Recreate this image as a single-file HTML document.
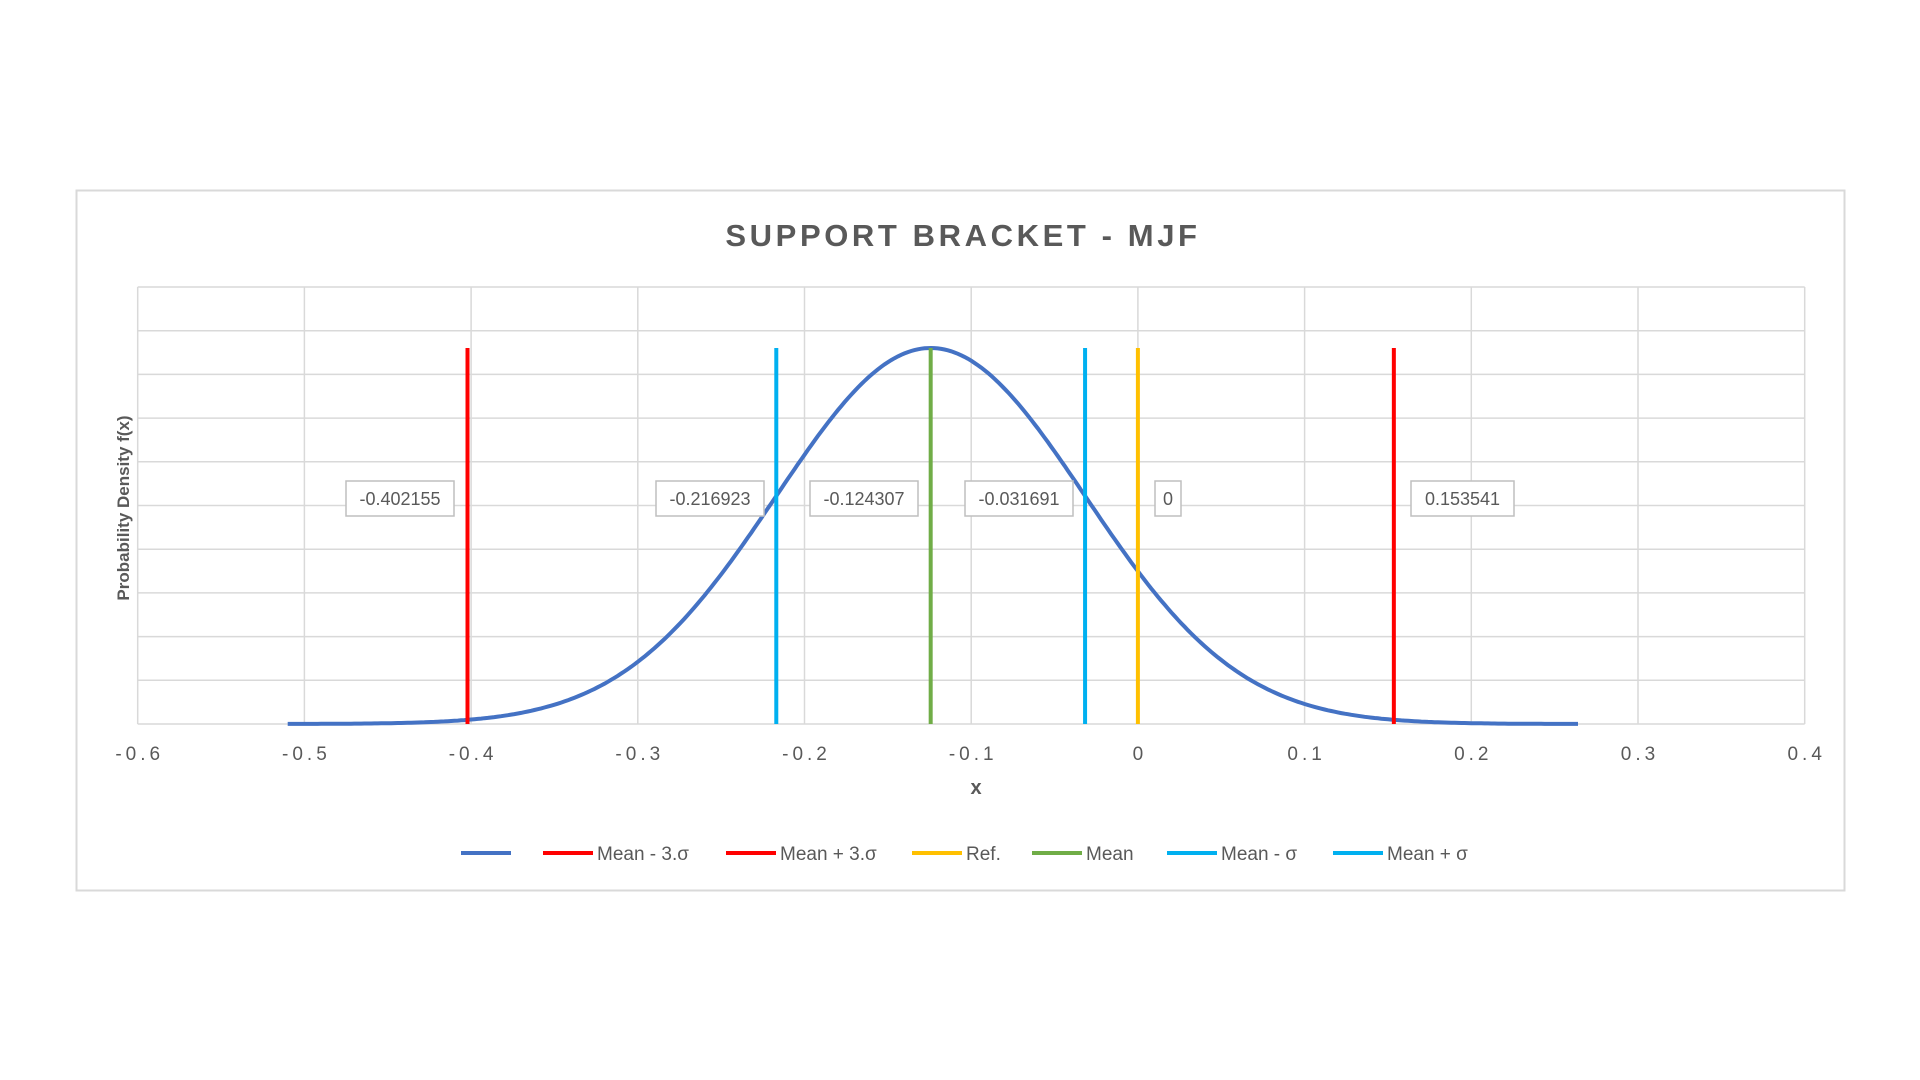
<!DOCTYPE html>
<html><head><meta charset="utf-8"><style>
html,body{margin:0;padding:0;background:#fff;width:1920px;height:1080px;overflow:hidden}
svg{display:block}
text{font-family:"Liberation Sans",sans-serif}
</style></head><body>
<svg id="s" width="1920" height="1080" xmlns="http://www.w3.org/2000/svg">
<rect x="76.5" y="190.5" width="1768" height="700" fill="#fff" stroke="#d9d9d9" stroke-width="2"/>
<text x="963" y="246" text-anchor="middle" font-size="31" font-weight="bold" fill="#595959" letter-spacing="3.6">SUPPORT BRACKET - MJF</text>
<g id="grid" stroke="#d9d9d9" stroke-width="1.5"></g>
<g id="ticks" font-size="19" fill="#595959" text-anchor="middle" letter-spacing="4"></g>
<text x="976" y="794" text-anchor="middle" font-size="20" font-weight="bold" fill="#595959">x</text>
<text transform="translate(129,508) rotate(-90)" text-anchor="middle" font-size="17" font-weight="bold" fill="#595959">Probability Density f(x)</text>
<path id="curve" fill="none" stroke="#4472C4" stroke-width="4"/>
<g id="vlines" stroke-width="4"></g>
<g id="labels" font-size="18" fill="#595959"></g>
<g id="legend" font-size="19" fill="#595959"></g>
</svg>
<script>
var L=137.7,W=1667,T=287,B=724,PK=348;
function X(v){return L+(v+0.6)*W/1.0;}
var ns="http://www.w3.org/2000/svg";
function el(p,t,a,txt){var e=document.createElementNS(ns,t);for(var k in a)e.setAttribute(k,a[k]);if(txt!=null)e.textContent=txt;document.getElementById(p).appendChild(e);return e;}
for(var i=0;i<=10;i++){var y=T+i*(B-T)/10;el("grid","line",{x1:L,x2:L+W,y1:y,y2:y});}
var tl=["-0.6","-0.5","-0.4","-0.3","-0.2","-0.1","0","0.1","0.2","0.3","0.4"];
for(var i=0;i<=10;i++){var x=L+i*W/10;el("grid","line",{x1:x,x2:x,y1:T,y2:B});el("ticks","text",{x:x+2,y:760},tl[i]);}
var m=-0.124307,s=0.092616,d="";
for(var v=-0.51;v<=0.2655;v+=0.002){var y=B-(B-PK)*Math.exp(-0.5*Math.pow((v-m)/s,2));d+=(d?"L":"M")+X(v).toFixed(1)+" "+y.toFixed(1);}
document.getElementById("curve").setAttribute("d",d);
var lines=[[-0.402155,"#FF0000"],[-0.216923,"#00B0F0"],[-0.124307,"#70AD47"],[-0.031691,"#00B0F0"],[0,"#FFC000"],[0.153541,"#FF0000"]];
lines.forEach(function(l){var x=X(l[0]);el("vlines","line",{x1:x,x2:x,y1:PK,y2:B,stroke:l[1]});});
var boxes=[[346,454,"-0.402155",1],[656,764,"-0.216923",1],[810,918,"-0.124307",1],[965,1073,"-0.031691",1],[1155,1181,"0",0],[1411,1514,"0.153541",0]];
boxes.forEach(function(b){el("labels","rect",{x:b[0],y:481,width:b[1]-b[0],height:35,fill:"#fff",stroke:"#bfbfbf","stroke-width":1.5});el("labels","text",{x:(b[0]+b[1])/2,y:505,"text-anchor":"middle"},b[2]);});
var lg=[[461,"#4472C4",""],[543,"#FF0000","Mean - 3.σ"],[726,"#FF0000","Mean + 3.σ"],[912,"#FFC000","Ref."],[1032,"#70AD47","Mean"],[1167,"#00B0F0","Mean - σ"],[1333,"#00B0F0","Mean + σ"]];
lg.forEach(function(g){el("legend","line",{x1:g[0],x2:g[0]+50,y1:853,y2:853,stroke:g[1],"stroke-width":4});if(g[2])el("legend","text",{x:g[0]+54,y:860},g[2]);});
</script>
</body></html>
